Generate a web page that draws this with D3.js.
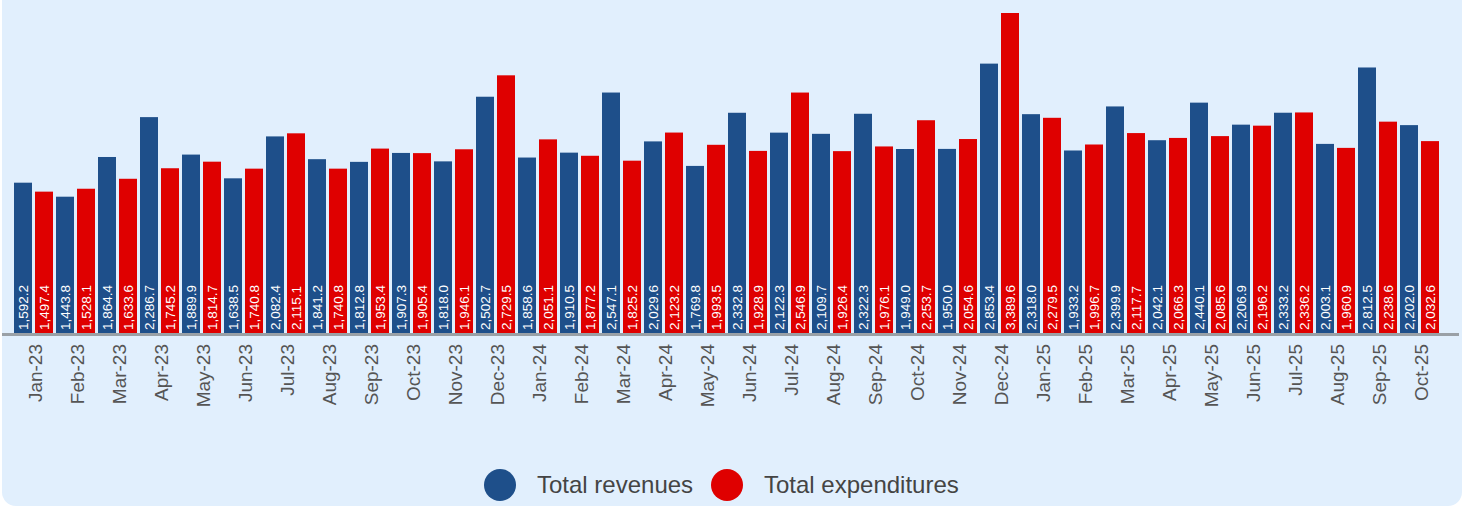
<!DOCTYPE html>
<html>
<head>
<meta charset="utf-8">
<script src="https://cdn.jsdelivr.net/npm/d3@7"></script>
<style>
  html, body { margin: 0; padding: 0; background: #fff; }
  svg { display: block; font-family: "Liberation Sans", Arial, sans-serif; }
</style>
</head>
<body>
<svg id="chart" width="1466" height="506"></svg>
<script>
// monthly totals, in the same order as the axis
var months = ["Jan-23","Feb-23","Mar-23","Apr-23","May-23","Jun-23","Jul-23","Aug-23","Sep-23","Oct-23","Nov-23","Dec-23",
  "Jan-24","Feb-24","Mar-24","Apr-24","May-24","Jun-24","Jul-24","Aug-24","Sep-24","Oct-24","Nov-24","Dec-24",
  "Jan-25","Feb-25","Mar-25","Apr-25","May-25","Jun-25","Jul-25","Aug-25","Sep-25","Oct-25"];

var revenues = [1592.2,1443.8,1864.4,2286.7,1889.9,1638.5,2082.4,1841.2,1812.8,1907.3,1818.0,2502.7,
  1858.6,1910.5,2547.1,2029.6,1769.8,2332.8,2122.3,2109.7,2322.3,1949.0,1950.0,2853.4,
  2318.0,1933.2,2399.9,2042.1,2440.1,2206.9,2333.2,2003.1,2812.5,2202.0];

var expenditures = [1497.4,1528.1,1633.6,1745.2,1814.7,1740.8,2115.1,1740.8,1953.4,1905.4,1946.1,2729.5,
  2051.1,1877.2,1825.2,2123.2,1993.5,1928.9,2546.9,1926.4,1976.1,2253.7,2054.6,3389.6,
  2279.5,1996.7,2117.7,2066.3,2085.6,2196.2,2336.2,1960.9,2238.6,2032.6];

var seriesNames = ["Total revenues", "Total expenditures"];
var seriesColours = ["#1e4f8a", "#df0000"];

var svg = d3.select("#chart");

// card background, top corners pushed off the page
svg.append("rect")
  .attr("x", 2).attr("y", -20)
  .attr("width", 1460).attr("height", 526)
  .attr("rx", 14)
  .style("fill", "#e1effd");

var baseY = 333;
var x = d3.scaleBand().domain(months).range([14, 1442]).padding(0);
var xs = d3.scaleBand().domain(seriesNames).range([0, x.bandwidth()])
  .paddingInner(1/7).paddingOuter(1/14).align(0);
var y = d3.scaleLinear()
  .domain([0, d3.max(revenues.concat(expenditures))])
  .range([baseY, 13]);

var rows = months.map(function(m, i){
  return {month: m, values: [revenues[i], expenditures[i]]};
});
var fmt = d3.format(",.1f");

var groups = svg.selectAll("g.month").data(rows).enter()
  .append("g")
  .attr("class", "month")
  .attr("transform", function(d){ return "translate(" + x(d.month) + ",0)"; });

var cells = groups.selectAll("g.cell")
  .data(function(d){ return d.values.map(function(v, k){ return {v: v, k: k}; }); })
  .enter().append("g").attr("class", "cell");

cells.append("rect")
  .attr("x", function(d){ return xs(seriesNames[d.k]); })
  .attr("y", function(d){ return y(d.v); })
  .attr("width", xs.bandwidth())
  .attr("height", function(d){ return baseY - y(d.v); })
  .style("fill", function(d){ return seriesColours[d.k]; });

cells.append("text")
  .attr("transform", function(d){
    var cx = xs(seriesNames[d.k]) + xs.bandwidth() / 2;
    return "translate(" + cx + "," + (baseY - 3) + ") rotate(-90)";
  })
  .attr("dy", "0.35em")
  .attr("text-anchor", "start")
  .style("fill", "#fff")
  .style("font-size", "13.5px")
  .text(function(d){ return fmt(d.v); });

// x axis labels
var xAxis = svg.append("g")
  .attr("transform", "translate(0," + baseY + ")")
  .call(d3.axisBottom(x).tickSize(0).tickPadding(0));
xAxis.select(".domain").remove();
xAxis.selectAll("text")
  .attr("transform", "translate(0,11) rotate(-90)")
  .attr("x", 0).attr("y", 0)
  .attr("dy", "0.35em")
  .attr("text-anchor", "end")
  .style("font-family", "\"Liberation Sans\", Arial, sans-serif")
  .style("font-size", "19px")
  .style("fill", "#555");

// base line
svg.append("line")
  .attr("x1", 2).attr("x2", 1459)
  .attr("y1", baseY + 1.5).attr("y2", baseY + 1.5)
  .style("stroke", "#9aa0a6")
  .style("stroke-width", 3);

// legend
var legendPos = [500, 727];
var legend = svg.selectAll("g.legend").data(seriesNames).enter()
  .append("g")
  .attr("class", "legend")
  .attr("transform", function(d, i){ return "translate(" + legendPos[i] + ",485)"; });
legend.append("circle")
  .attr("r", 16)
  .style("fill", function(d, i){ return seriesColours[i]; });
legend.append("text")
  .attr("x", 37)
  .attr("dy", "0.35em")
  .style("font-size", "24px")
  .style("fill", "#444")
  .text(function(d){ return d; });
</script>
</body>
</html>
